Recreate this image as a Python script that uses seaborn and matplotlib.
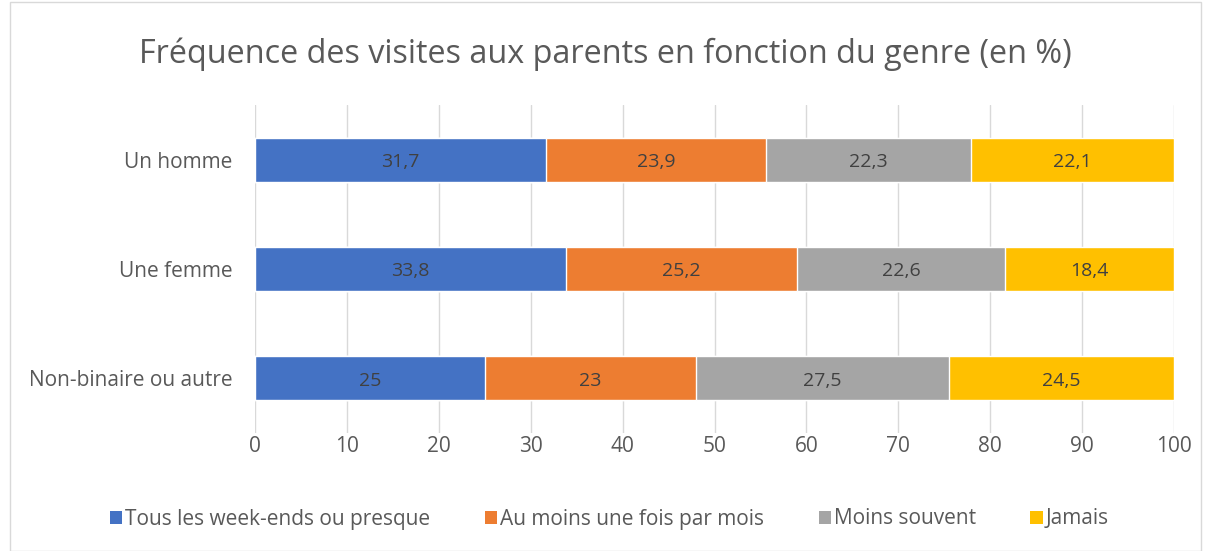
import numpy as np
import pandas as pd
import matplotlib.pyplot as plt
import seaborn as sns
from matplotlib.patches import Patch, Rectangle

# data
genres = ['Un homme', 'Une femme', 'Non-binaire ou autre']
series = ['Tous les week-ends ou presque', 'Au moins une fois par mois', 'Moins souvent', 'Jamais']
tous_we = [31.7, 33.8, 25]
au_moins_mois = [23.9, 25.2, 23]
moins_souvent = [22.3, 22.6, 27.5]
jamais = [22.1, 18.4, 24.5]
colors = ['#4472C4', '#ED7D31', '#A5A5A5', '#FFC000']

sns.set_style('white')
plt.rcParams['font.family'] = ['Open Sans', 'DejaVu Sans']

df = pd.DataFrame({'genre': genres, series[0]: tous_we, series[1]: au_moins_mois,
                   series[2]: moins_souvent, series[3]: jamais})
cum = df[series].cumsum(axis=1)

fig = plt.figure(figsize=(12.11, 5.51), dpi=100)
ax = fig.add_axes([255 / 1211, 1 - 433 / 551, (1174 - 255) / 1211, (433 - 105) / 551])

# stacked bars: draw cumulative totals from the largest down
for s, c in reversed(list(zip(series, colors))):
    sns.barplot(x=cum[s], y=df['genre'], orient='h', color=c, width=0.4,
                saturation=1, ax=ax, zorder=2)

# value labels
for i in range(len(genres)):
    left = 0
    for s in series:
        v = df[s][i]
        ax.text(left + v / 2, i + 0.02, f'{v:g}'.replace('.', ','), ha='center', va='center',
                fontsize=14, color='#404040', zorder=3)
        left += v

ax.set_xlim(0, 100)
ax.set_ylim(2.5, -0.5)
ax.set_xticks(np.arange(0, 101, 10))
ax.xaxis.grid(True, color='#D9D9D9', linewidth=1, zorder=0)
ax.set_axisbelow(True)
for sp in ax.spines.values():
    sp.set_visible(False)
ax.tick_params(axis='both', length=0, labelsize=15, labelcolor='#595959')
ax.tick_params(axis='y', pad=16)
ax.tick_params(axis='x', pad=2)
ax.set_xlabel('')
ax.set_ylabel('')

fig.text(0.5, 1 - 54 / 551, 'Fréquence des visites aux parents en fonction du genre (en %)',
         ha='center', va='center', fontsize=23.3, color='#595959')

handles = [Patch(facecolor=c, edgecolor='none') for c in colors]
fig.legend(handles, series, loc='center', bbox_to_anchor=(0.5 + 4 / 1211, 1 - 519 / 551), ncol=4,
           frameon=False, fontsize=15, labelcolor='#595959', handlelength=0.6,
           handleheight=0.6, handletextpad=0.15, columnspacing=2.6)

# chart border
fig.patches.append(Rectangle((10 / 1211, 0.0), 1 - 20 / 1211, 1 - 2 / 551,
                             transform=fig.transFigure, fill=False,
                             edgecolor='#D9D9D9', linewidth=1))

fig.savefig('out.png', dpi=100)
